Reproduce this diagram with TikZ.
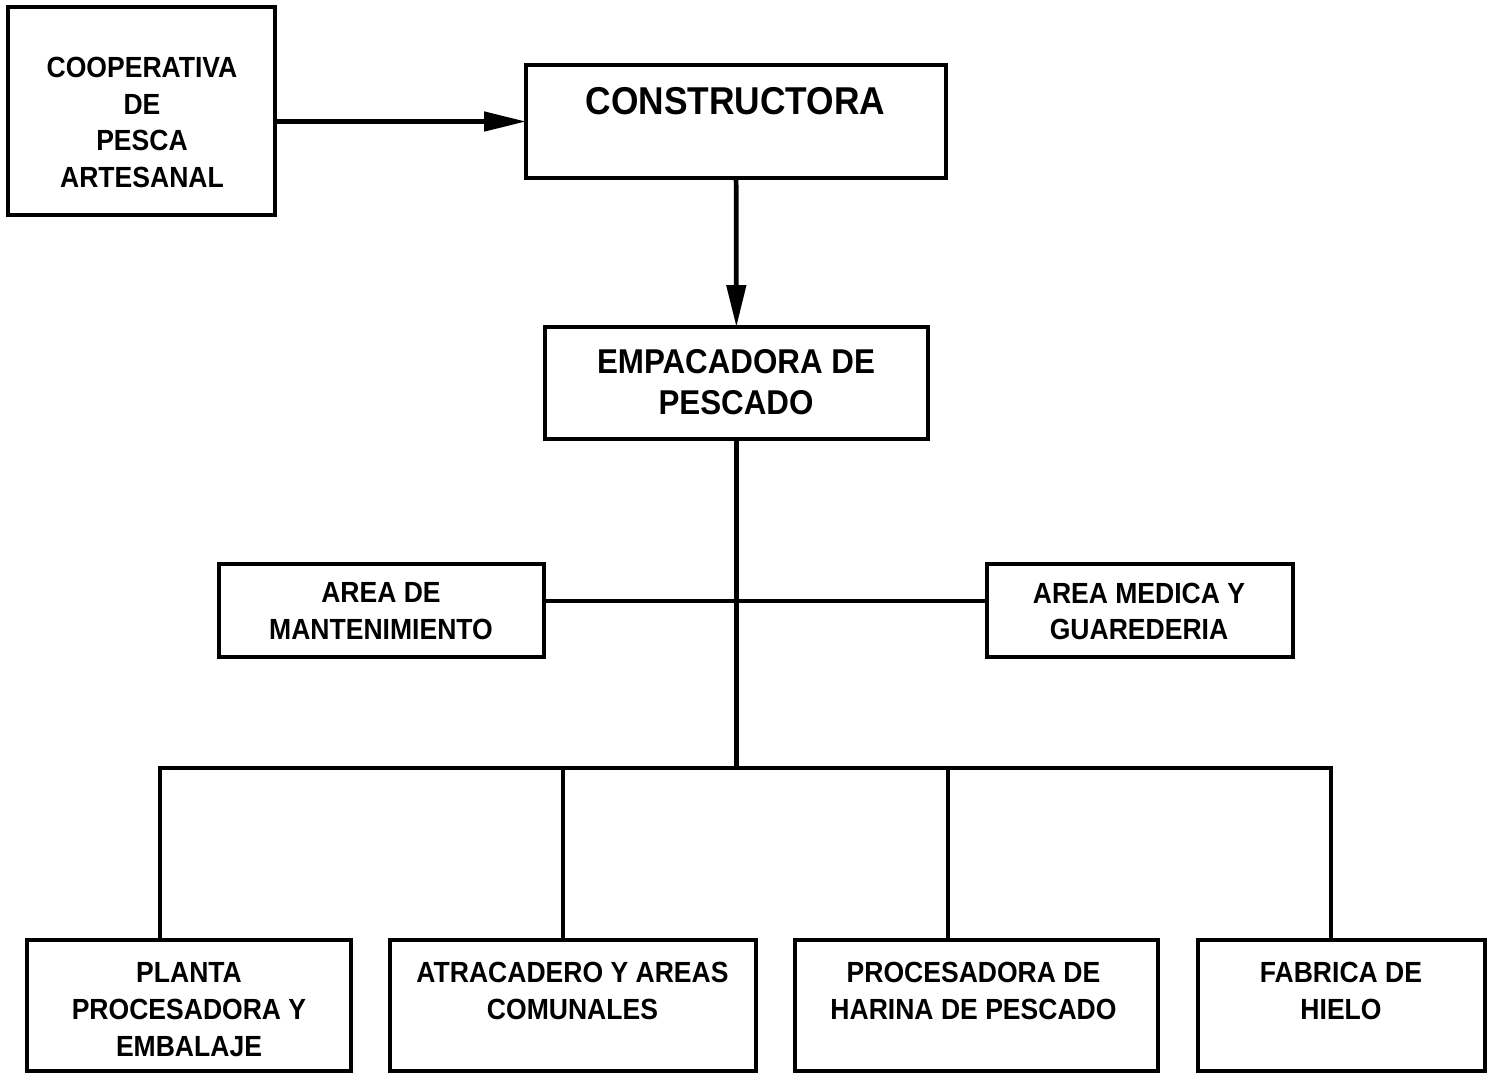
\documentclass[tikz,border=0pt]{standalone}
\usepackage{fontspec}
\setmainfont{Liberation Sans}[FakeStretch=0.91]
\usetikzlibrary{arrows.meta}

\begin{document}
\begin{tikzpicture}[%
		x=0.02cm,
		y=-0.02cm,
		line width=2.7pt,
		>={Triangle[length=0.84cm, width=0.38cm]},
		caja/.style={%
			draw,
			inner sep=0pt,
			outer sep=0pt
		},
		texto/.style={%
			font=\bfseries\fontsize{16.6}{21}\selectfont,
			align=center,
			inner sep=0pt
		}
		]
		\useasboundingbox (0,0) rectangle (1495,1076);
		
		% cajas
		\node[caja, minimum width=5.34cm, minimum height=4.16cm] (1) at (141.5,111)    {};
		\node[caja, minimum width=8.4cm,  minimum height=2.26cm] (2) at (736,121.5)    {};
		\node[caja, minimum width=7.66cm, minimum height=2.24cm] (3) at (736.5,383)    {};
		\node[caja, minimum width=6.5cm,  minimum height=1.86cm] (4) at (381.5,610.5)  {};
		\node[caja, minimum width=6.12cm, minimum height=1.86cm] (5) at (1140,610.5)   {};
		\node[caja, minimum width=6.48cm, minimum height=2.62cm] (6) at (189,1005.5)   {};
		\node[caja, minimum width=7.32cm, minimum height=2.62cm] (7) at (573,1005.5)   {};
		\node[caja, minimum width=7.26cm, minimum height=2.62cm] (8) at (976.5,1005.5) {};
		\node[caja, minimum width=5.74cm, minimum height=2.62cm] (9) at (1341.5,1005.5) {};
		
		% textos
		\node[texto] (1t) at (142,122.5)   {COOPERATIVA\\DE\\PESCA\\ARTESANAL};
		\node[texto, font=\bfseries\fontsize{22.1}{26}\selectfont] (2t) at (735.5,101) {CONSTRUCTORA};
		\node[texto, font=\bfseries\fontsize{19.6}{23.2}\selectfont] (3t) at (736,382.5) {EMPACADORA DE\\PESCADO};
		\node[texto] (4t) at (381,611.5)   {AREA DE\\MANTENIMIENTO};
		\node[texto] (5t) at (1139,611.5)  {AREA MEDICA Y\\GUAREDERIA};
		\node[texto] (6t) at (189,1009.5)  {PLANTA\\PROCESADORA Y\\EMBALAJE};
		\node[texto] (7t) at (572.5,991)   {ATRACADERO Y AREAS\\COMUNALES};
		\node[texto] (8t) at (973.5,991)   {PROCESADORA DE\\HARINA DE PESCADO};
		\node[texto] (9t) at (1341,991)    {FABRICA DE\\HIELO};
		
		% puntos de union
		\coordinate (m)  at (736.5,601);
		\coordinate (c)  at (736.5,768);
		\coordinate (b1) at (160,768);
		\coordinate (b2) at (563,768);
		\coordinate (b3) at (948,768);
		\coordinate (b4) at (1331,768);
		
		\draw[->] (2.west -| 1.east) -- (2.west);
		\draw[->] (2) -- (3);
		\draw (3) -- (c);
		\draw (4.east |- m) -- (5.west |- m);
		\draw (b1 |- 6.north) -- (b1) -- (b4) -- (b4 |- 9.north);
		\draw (b2) -- (b2 |- 7.north);
		\draw (b3) -- (b3 |- 8.north);
\end{tikzpicture}
\end{document}
